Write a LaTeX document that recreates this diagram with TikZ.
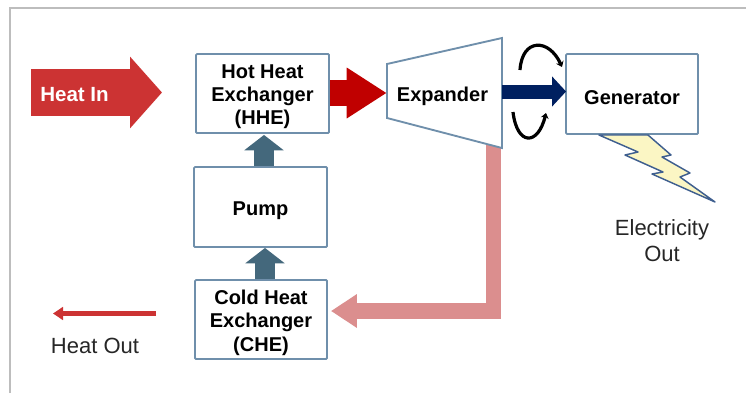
\documentclass[tikz,border=0pt]{standalone}
\usepackage{fontspec}
\setmainfont{Liberation Sans}
\usetikzlibrary{arrows.meta,calc}
\definecolor{boxline}{HTML}{6F8FAB}
\definecolor{frameline}{HTML}{BDBDBD}
\definecolor{heatred}{HTML}{CC3333}
\definecolor{darkred}{HTML}{C00000}
\definecolor{pinkred}{HTML}{DB8E8E}
\definecolor{slateblue}{HTML}{44687C}
\definecolor{navy}{HTML}{002060}
\definecolor{boltfill}{HTML}{FBF6C4}
\definecolor{boltline}{HTML}{3F5F8F}
\tikzset{
  x=0.75pt,y=-0.75pt,
  blockbox/.style={draw=boxline,line width=1.4pt,rounded corners=0.8pt,fill=white,inner sep=0pt},
  blocktext/.style={inner sep=0pt,align=center,yshift=-2.4pt,
    font=\fontsize{15}{17.6}\selectfont\bfseries,text=black},
  plainlabel/.style={inner sep=0pt,align=center,font=\fontsize{16.5}{19.5}\selectfont,text=black!85},
  flowup/.style={slateblue,line width=15.5pt,-{Triangle[length=11.5pt,width=29pt]}},
  turnarrow/.style={black,line width=2.4pt,-{Stealth[length=4pt,width=6pt]}},
}
\begin{document}
\begin{tikzpicture}
\useasboundingbox (0,0) rectangle (746,393);
\draw[frameline,line width=1.8pt] (10,393) -- (10,8) -- (746,8);

\node[blockbox,minimum width=99.75pt,minimum height=59.25pt,label={[blocktext]center:{Hot Heat\\Exchanger\\(HHE)}}] (hhe) at (262.5,93.5) {};
\node[blockbox,minimum width=99.75pt,minimum height=60pt,label={[blocktext]center:{Pump}}] (pump) at (260.5,207) {};
\node[blockbox,minimum width=99pt,minimum height=59.25pt,label={[blocktext]center:{Cold Heat\\Exchanger\\(CHE)}}] (che) at (261,319.5) {};
\node[blockbox,minimum width=99pt,minimum height=60pt,label={[blocktext]center:{Generator}}] (gen) at (632,94) {};

\node[minimum width=86.25pt,minimum height=82.5pt,inner sep=0pt] (exp) at (444.5,93) {};
% Heat return drawn first so that the Expander outline lies over it
\draw[pinkred,line width=11.5pt,-{Triangle[length=19.5pt,width=24pt]}]
  ($(exp.south east)+(-9,-4)$) |- ($(che.east)+(3,-8.5)$);
\draw[boxline,line width=1.4pt,fill=white] (387,64) -- (502,38) -- (502,148) -- (387,118) -- cycle;
\node[inner sep=0pt,font=\fontsize{15}{17}\selectfont\bfseries] (explabel) at (442.5,96) {Expander};

% Heat In block arrow
\coordinate (inL) at (31,92.5);
\coordinate (inR) at (162,92.5);
\draw[heatred,line width=35pt,-{Triangle[length=24pt,width=52.5pt]}] (inL) -- (inR);
\node[inner sep=0pt,text=white,font=\fontsize{15.4}{17}\selectfont\bfseries,anchor=west] (heatin) at (40,94.5) {Heat In};

% Flow connectors
\draw[darkred,line width=19pt,-{Triangle[length=30pt,width=36pt]}] ($(hhe.east)+(0,-0.5)$) -- (exp.west);
\draw[navy,line width=10.5pt,-{Triangle[length=10.5pt,width=22pt]}] ($(exp.east)+(0,-1.5)$) -- ($(gen.west)+(1,-2.5)$);
\draw[flowup] ($(pump.north)+(3.5,0)$) -- ($(hhe.south)+(1.5,1)$);
\draw[flowup] ($(che.north)+(4,0)$) -- ($(pump.south)+(4.5,0)$);

% Rotation marks
\coordinate (t1) at (520,70);
\coordinate (t2) at (562,67);
\coordinate (b1) at (513,112);
\coordinate (b2) at (546,113);
\draw[turnarrow] (t1) .. controls (522,38) and (549,38) .. (t2);
\draw[turnarrow] (b1) .. controls (517,146) and (538,146) .. (b2);

% Lightning bolt
\draw[boltline,line width=1.1pt,fill=boltfill,line join=round]
  (599,135) -- (648,135) -- (671,155) -- (662,157) -- (690,173) -- (680,177) -- (715,202)
  -- (652,174) -- (663,172) -- (625,155) -- (638,152) -- cycle;

% Heat Out
\coordinate (outR) at (156,313.5);
\coordinate (outL) at (53,313.5);
\draw[heatred,line width=4.3pt,-{Triangle[length=7.5pt,width=9.5pt]}] (outR) -- (outL);
\node[plainlabel] (heatout) at (95,346) {Heat Out};
\node[plainlabel] (elec) at (662,241) {Electricity\\Out};
\end{tikzpicture}
\end{document}
